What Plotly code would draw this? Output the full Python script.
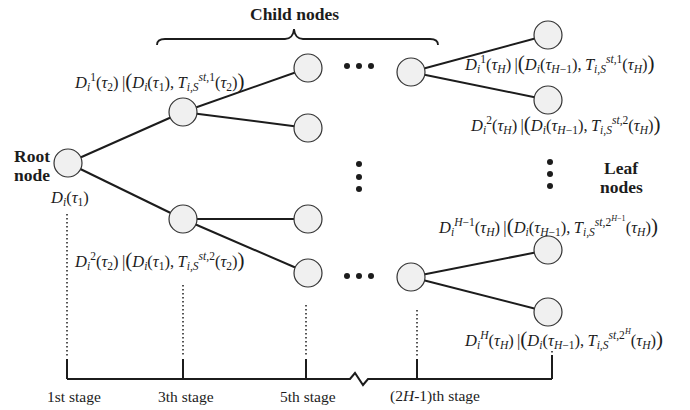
import plotly.graph_objects as go

W, H = 690, 410
INK = "#1c1c1c"
SERIF = "Liberation Serif"

# ---- tree nodes (pixel coordinates of the scenario tree) ----
node_x = [68, 183, 183, 308, 308, 308, 308, 411, 411, 548, 548, 548, 548]
node_y = [163, 112, 219, 68, 128, 219, 273, 72, 277, 35, 100, 250, 312]
# parent -> child links, by node index
edges = [(0, 1), (0, 2), (1, 3), (1, 4), (2, 5), (2, 6),
         (7, 9), (7, 10), (8, 11), (8, 12)]

# ---- stage axis ----
stage_names = ["1st stage", "3th stage", "5th stage", "(2<i>H</i>-1)th stage", ""]
stage_tick_x = [67, 183, 306, 417, 552]
stage_label_x = [74, 186, 308, 435, None]
dotted_top = [214, 285, 305, 310, 351]

THIN = "\u2009"


def it(s):
    return f"<i>{s}</i>"


def big(s):
    return f'<span style="font-size:21px">{s}</span>'


def D(sup, arg):
    s = it("D") + "<sub>" + it("i") + "</sub>"
    if sup:
        s += "<sup>" + sup + "</sup>"
    return s + "(" + it("τ") + "<sub>" + arg + "</sub>)"


def cond(sup, arg, prev, tsup):
    t = it("T") + "<sub>" + it("i,S") + "</sub><sup>" + it("st") + "," + tsup + "</sup>"
    return (D(sup, arg) + THIN + "|" + big("(") + D("", prev) + "," + THIN + t
            + "(" + it("τ") + "<sub>" + arg + "</sub>)" + big(")"))


tH = it("H")
tH1 = it("H") + "−1"
node_labels = [
    (cond("1", "2", "1", "1"), 72, 81),
    (cond("2", "2", "1", "2"), 72, 260),
    (D("", "1"), 48, 198),
    (cond("1", tH, tH1, "1"), 462, 63),
    (cond("2", tH, tH1, "2"), 468, 124),
    (cond(tH1, tH, tH1, "2<sup>" + tH1 + "</sup>"), 436, 226),
    (cond(tH, tH, tH1, "2<sup>" + tH + "</sup>"), 462, 339),
]

fig = go.Figure()

# links between nodes
for a, b in edges:
    fig.add_trace(go.Scatter(x=[node_x[a], node_x[b]], y=[node_y[a], node_y[b]],
                             mode="lines", line=dict(color=INK, width=2),
                             hoverinfo="skip", showlegend=False))

# nodes
fig.add_trace(go.Scatter(x=node_x, y=node_y, mode="markers",
                         marker=dict(size=28, color="#f0f0f0",
                                     line=dict(color="#333333", width=1.2)),
                         hoverinfo="skip", showlegend=False))

# ellipsis dots
ell_x = [347, 359, 371, 347, 359, 371, 359, 359, 359, 550, 550, 550]
ell_y = [66, 66, 66, 276, 276, 276, 164, 177, 189, 162, 174, 186]
fig.add_trace(go.Scatter(x=ell_x, y=ell_y, mode="markers",
                         marker=dict(size=6, color=INK),
                         hoverinfo="skip", showlegend=False))

# dotted guides from nodes down to the stage axis
for x, top in zip(stage_tick_x, dotted_top):
    fig.add_trace(go.Scatter(x=[x, x], y=[top, 357], mode="lines",
                             line=dict(color=INK, width=1.5, dash="1.5px,2.5px"),
                             hoverinfo="skip", showlegend=False))

# stage axis with break mark
axis_x = [67, 350, 355, 363, 368, 552]
axis_y = [379, 379, 373, 385, 379, 379]
fig.add_trace(go.Scatter(x=axis_x, y=axis_y, mode="lines",
                         line=dict(color=INK, width=2),
                         hoverinfo="skip", showlegend=False))
for i, x in enumerate(stage_tick_x):
    fig.add_trace(go.Scatter(x=[x, x], y=[379, 359 if i < 4 else 355], mode="lines",
                             line=dict(color=INK, width=2),
                             hoverinfo="skip", showlegend=False))

annotations = []
for name, lx in zip(stage_names, stage_label_x):
    if lx is None:
        continue
    annotations.append(dict(x=lx, y=396, text=name, showarrow=False,
                            xanchor="center", yanchor="middle",
                            font=dict(family=SERIF, size=15.5, color=INK)))

for text, lx, ly in node_labels:
    annotations.append(dict(x=lx, y=ly, text=text, showarrow=False,
                            xanchor="left", yanchor="middle",
                            font=dict(family=SERIF, size=16.5, color=INK)))

bold = dict(family=SERIF, size=17.5, color=INK)
annotations += [
    dict(x=294, y=14, text="<b>Child nodes</b>", showarrow=False, font=bold),
    dict(x=32, y=156, text="<b>Root</b>", showarrow=False, font=bold),
    dict(x=32, y=175, text="<b>node</b>", showarrow=False, font=bold),
    dict(x=621, y=168, text="<b>Leaf</b>", showarrow=False, font=bold),
    dict(x=621, y=187, text="<b>nodes</b>", showarrow=False, font=bold),
]

# curly brace over the child-node stages
brace = ("M 157 45 Q 157 39 165 39 L 285 39 Q 293 39 294 29 "
         "Q 295 39 303 39 L 430 39 Q 438 39 438 45")

fig.update_layout(
    width=W, height=H, margin=dict(l=0, r=0, t=0, b=0),
    paper_bgcolor="white", plot_bgcolor="white",
    xaxis=dict(range=[0, W], visible=False, fixedrange=True),
    yaxis=dict(range=[H, 0], visible=False, fixedrange=True),
    annotations=annotations,
    shapes=[dict(type="path", path=brace, line=dict(color=INK, width=1.8))],
)

fig.write_html("out.html")
